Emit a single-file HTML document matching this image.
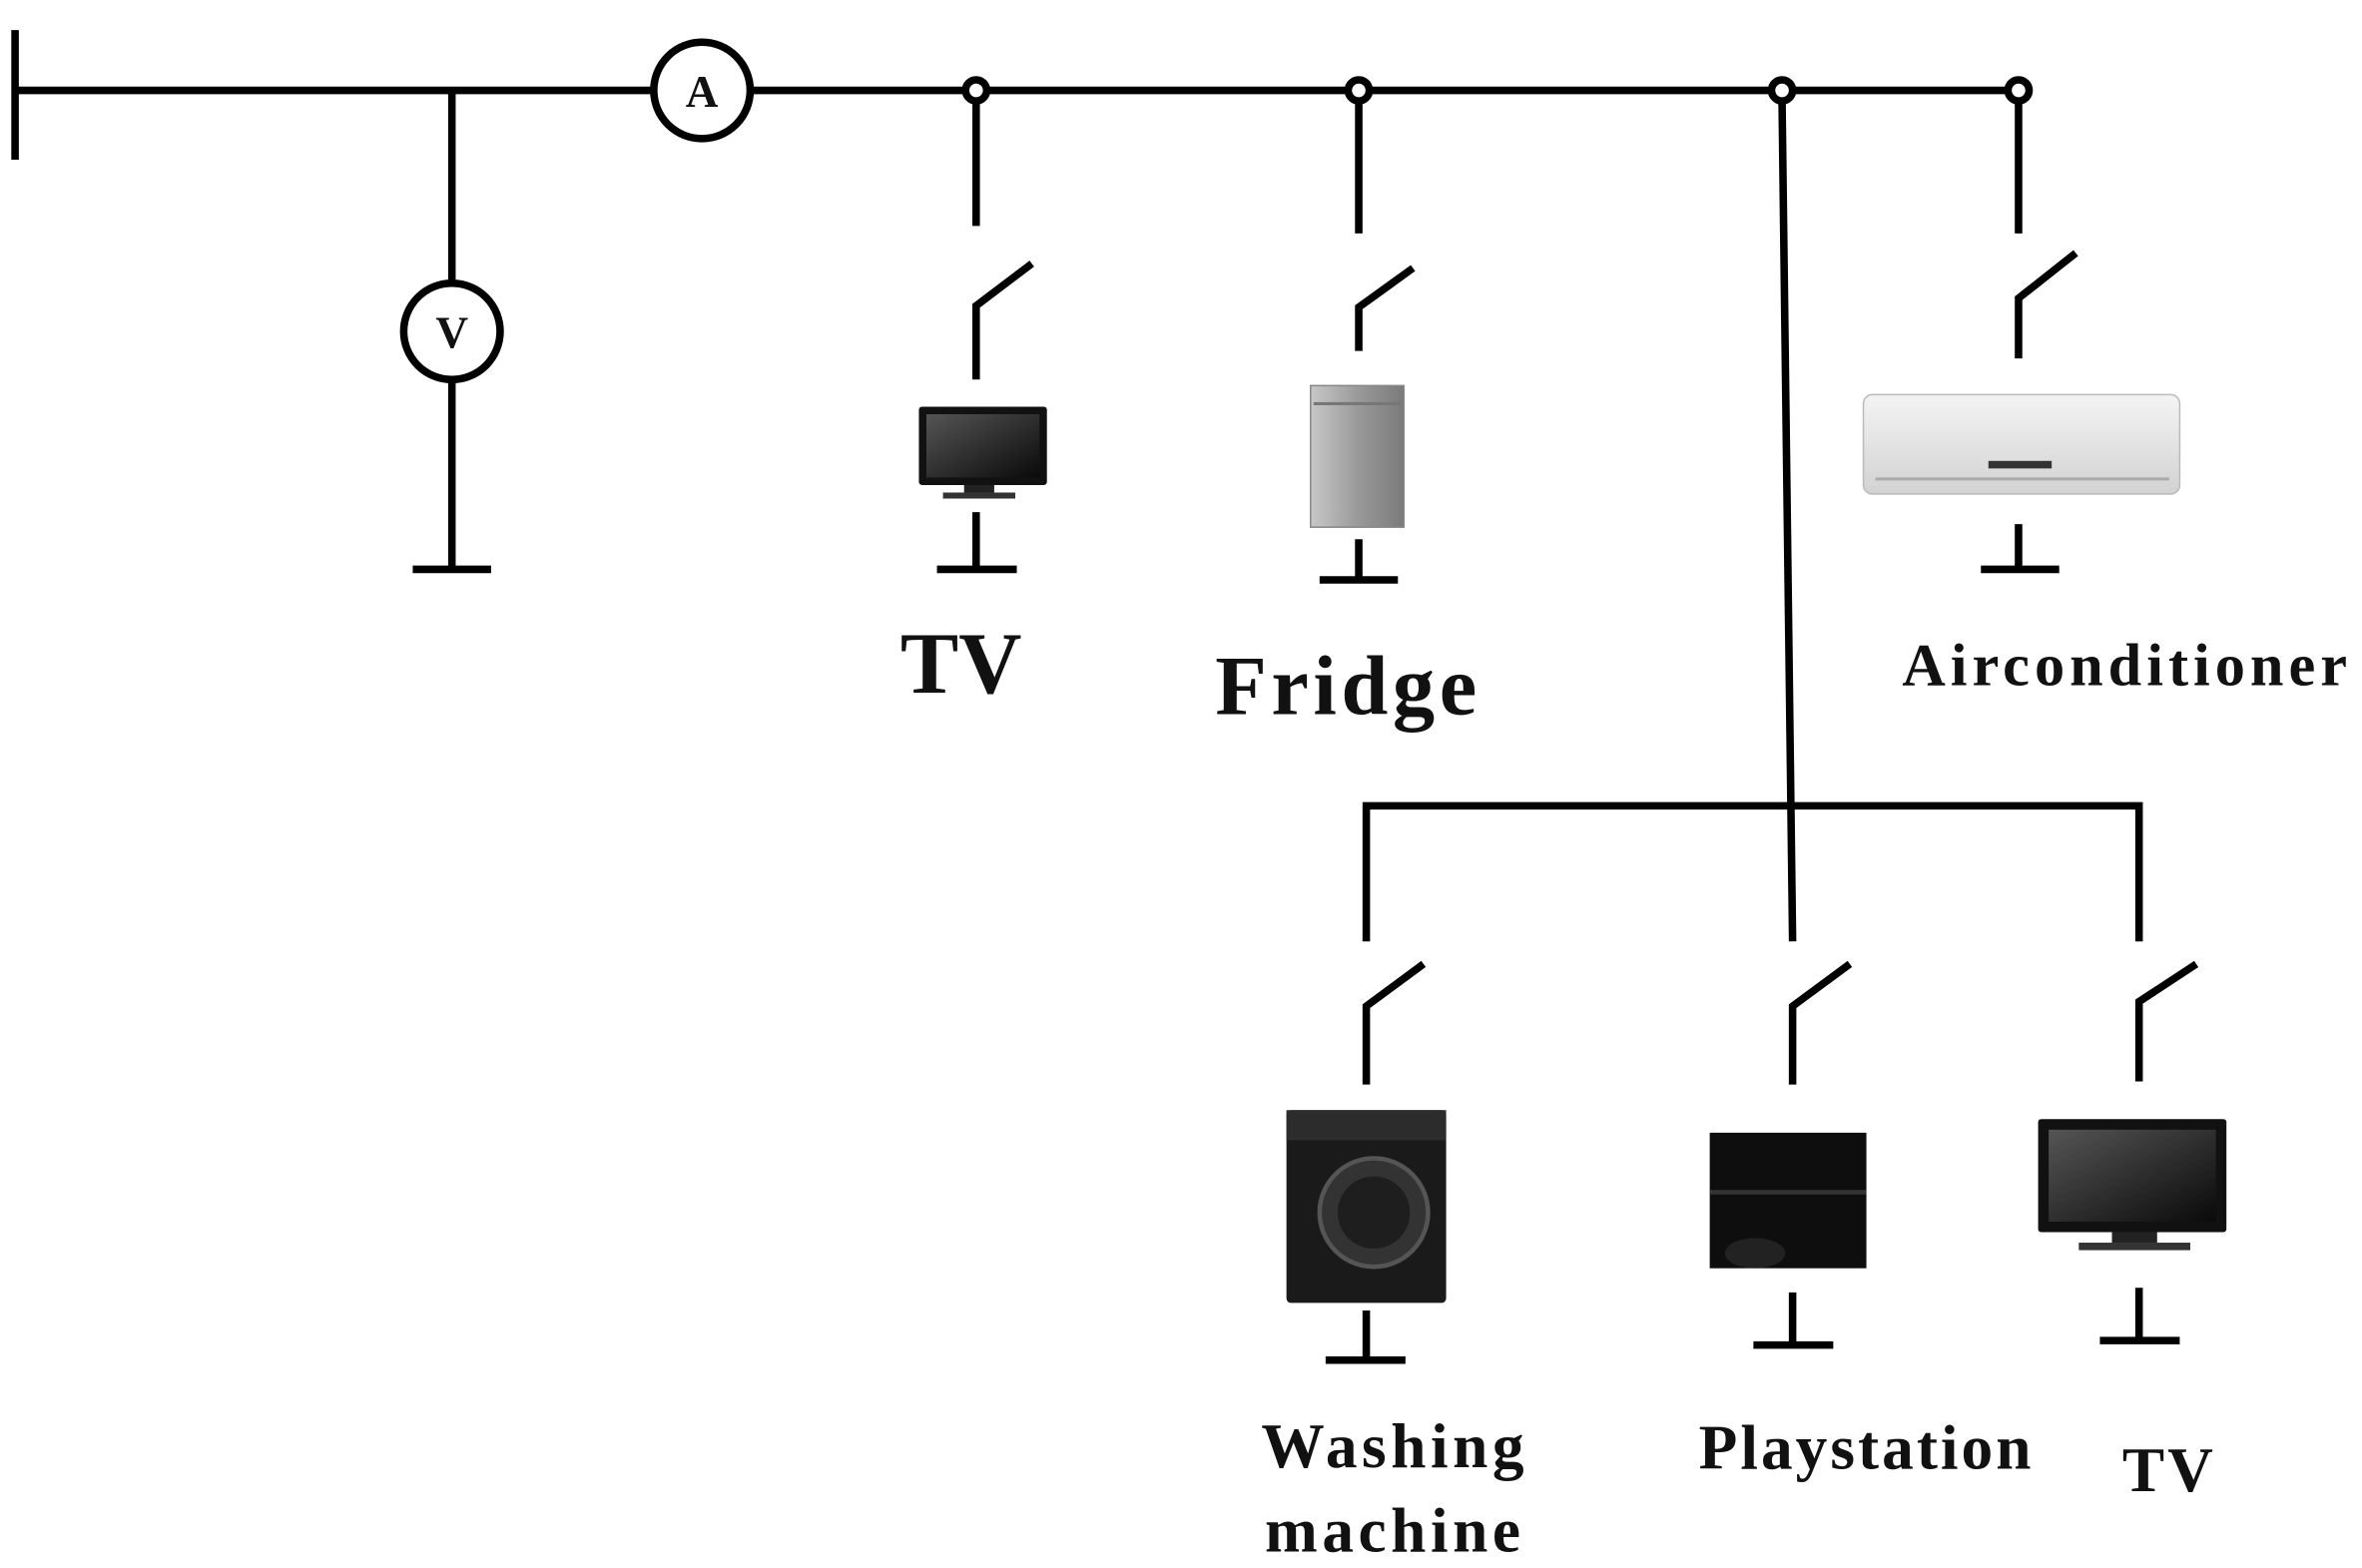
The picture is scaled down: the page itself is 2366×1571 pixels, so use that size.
<!DOCTYPE html>
<html><head><meta charset="utf-8"><style>
html,body{margin:0;padding:0;background:#fff;}
svg{display:block;}
text{font-family:"Liberation Serif",serif;font-weight:bold;fill:#111;}
</style></head><body>
<svg width="2366" height="1571" viewBox="0 0 1568 1041" preserveAspectRatio="none" xmlns="http://www.w3.org/2000/svg">
<defs>
<linearGradient id="scr" x1="0" y1="0" x2="1" y2="1"><stop offset="0" stop-color="#555"/><stop offset="1" stop-color="#0a0a0a"/></linearGradient>
<linearGradient id="fr" x1="0" y1="0" x2="1" y2="0"><stop offset="0" stop-color="#c8c8c8"/><stop offset="0.5" stop-color="#9a9a9a"/><stop offset="1" stop-color="#7a7a7a"/></linearGradient>
<linearGradient id="ac" x1="0" y1="0" x2="0" y2="1"><stop offset="0" stop-color="#f4f4f4"/><stop offset="1" stop-color="#d2d2d2"/></linearGradient>
</defs>
<g stroke="#000" stroke-width="5" fill="none" stroke-linecap="butt">
<line x1="10" y1="20" x2="10" y2="106"/>
<line x1="10" y1="60" x2="434" y2="60"/>
<line x1="498" y1="60" x2="1333" y2="60"/>
<circle cx="466" cy="60" r="32" fill="#fff"/>
<line x1="300" y1="60" x2="300" y2="188"/>
<circle cx="300" cy="220" r="32" fill="#fff"/>
<line x1="300" y1="252" x2="300" y2="378"/>
<line x1="274" y1="378" x2="326" y2="378"/>
<circle cx="648" cy="60" r="7" fill="#fff"/>
<circle cx="902" cy="60" r="7" fill="#fff"/>
<circle cx="1183" cy="60" r="7" fill="#fff"/>
<circle cx="1340" cy="60" r="7" fill="#fff"/>
<line x1="648" y1="67" x2="648" y2="150"/>
<polyline points="648,252 648,203 685,175"/>
<line x1="648" y1="340" x2="648" y2="378"/>
<line x1="622" y1="378" x2="675" y2="378"/>
<line x1="902" y1="67" x2="902" y2="155"/>
<polyline points="902,233 902,204 938,178"/>
<line x1="902" y1="358" x2="902" y2="385"/>
<line x1="876" y1="385" x2="928" y2="385"/>
<line x1="1340" y1="67" x2="1340" y2="155"/>
<polyline points="1340,238 1340,198 1378,168"/>
<line x1="1340" y1="348" x2="1340" y2="378"/>
<line x1="1315" y1="378" x2="1367" y2="378"/>
<line x1="1183" y1="67" x2="1190" y2="625"/>
<polyline points="907,625 907,535 1420,535 1420,625"/>
<polyline points="907,720 907,668 945,640"/>
<line x1="907" y1="870" x2="907" y2="903"/>
<line x1="880" y1="903" x2="933" y2="903"/>
<polyline points="1190,720 1190,668 1228,640"/>
<line x1="1190" y1="858" x2="1190" y2="893"/>
<line x1="1164" y1="893" x2="1217" y2="893"/>
<polyline points="1420,718 1420,665 1458,640"/>
<line x1="1420" y1="855" x2="1420" y2="890"/>
<line x1="1394" y1="890" x2="1447" y2="890"/>
</g>
<rect x="610" y="270" width="85" height="52" rx="2" fill="#111"/>
<rect x="615" y="275" width="75" height="42" fill="url(#scr)"/>
<rect x="640" y="322" width="20" height="5" fill="#222"/>
<rect x="626" y="327" width="48" height="4" fill="#333"/>
<rect x="870" y="256" width="62" height="94" fill="url(#fr)" stroke="#888"/>
<line x1="872" y1="268" x2="930" y2="268" stroke="#777" stroke-width="2"/>
<rect x="1237" y="262" width="210" height="66" rx="6" fill="url(#ac)" stroke="#bbb"/>
<rect x="1320" y="306" width="42" height="5" fill="#333"/>
<line x1="1245" y1="318" x2="1440" y2="318" stroke="#aaa" stroke-width="2"/>
<rect x="854" y="737" width="106" height="128" rx="3" fill="#1a1a1a"/>
<rect x="854" y="737" width="106" height="20" fill="#2c2c2c"/>
<circle cx="912" cy="805" r="36" fill="#333" stroke="#555" stroke-width="3"/>
<circle cx="912" cy="805" r="24" fill="#1e1e1e"/>
<rect x="1135" y="752" width="104" height="90" fill="#0e0e0e"/>
<rect x="1135" y="790" width="104" height="3" fill="#333"/>
<ellipse cx="1165" cy="832" rx="20" ry="10" fill="#222"/>
<rect x="1353" y="743" width="125" height="75" rx="2" fill="#111"/>
<rect x="1360" y="750" width="111" height="61" fill="url(#scr)"/>
<rect x="1402" y="818" width="30" height="7" fill="#222"/>
<rect x="1380" y="825" width="74" height="5" fill="#333"/>
<text x="466" y="71" font-size="30" text-anchor="middle">A</text>
<text x="300" y="231" font-size="30" text-anchor="middle">V</text>
<text x="638" y="460" font-size="58" text-anchor="middle">TV</text>
<text x="895" y="474" font-size="56" text-anchor="middle" letter-spacing="3">Fridge</text>
<text x="1412" y="455" font-size="40" text-anchor="middle" letter-spacing="3.3">Airconditioner</text>
<text x="926" y="974" font-size="42" text-anchor="middle" letter-spacing="3">Washing</text>
<text x="926" y="1030" font-size="42" text-anchor="middle" letter-spacing="3">machine</text>
<text x="1239" y="975" font-size="42" text-anchor="middle" letter-spacing="2">Playstation</text>
<text x="1440" y="990" font-size="42" text-anchor="middle" letter-spacing="2">TV</text>
</svg>
</body></html>
